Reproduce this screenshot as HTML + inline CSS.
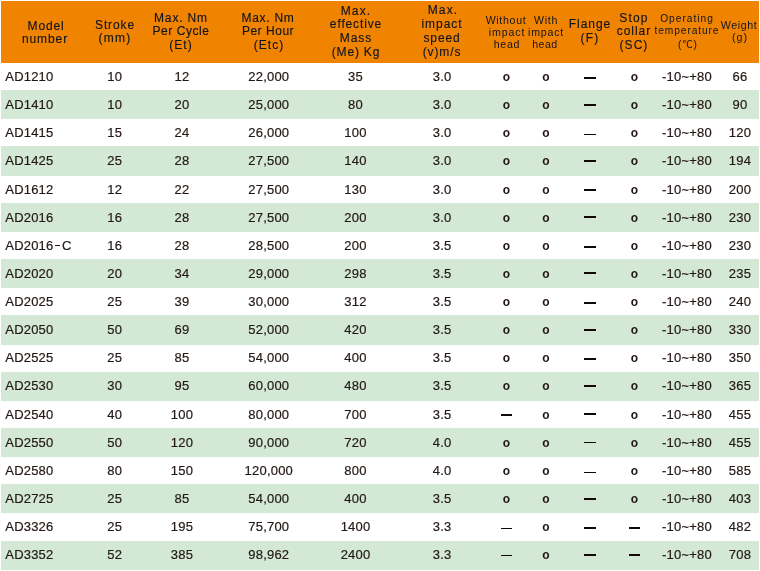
<!DOCTYPE html>
<html><head><meta charset="utf-8"><style>
*{margin:0;padding:0;box-sizing:border-box}
html,body{width:760px;height:571px;overflow:hidden;background:#fff}
body{position:relative;font-family:"Liberation Sans",Arial,"Noto Sans CJK SC",sans-serif;color:#231815}
.hd{position:absolute;left:1px;top:1px;width:758px;height:61.5px;background:#F08300}
.g{position:absolute;left:1px;width:758px;height:28.9px;background:#D4E9D5}
.r{position:absolute;left:0;width:760px;height:20px;line-height:20px;font-size:13px;white-space:nowrap;will-change:transform;-webkit-text-stroke:0.2px #231815;letter-spacing:0.2px}
.r b{position:absolute;top:0;width:100px;text-align:center;font-weight:normal}
.r .m{position:absolute;left:5.3px;top:0}
.r b.o{font-weight:bold;font-size:12px;-webkit-text-stroke:0}
.r i{position:absolute;background:#120808}
.hy{display:inline-block;width:8.6px;height:1.2px;vertical-align:4px;background:linear-gradient(to right,transparent 2.3px,#231815 2.3px,#231815 7px,transparent 7px)}
.h{position:absolute;width:120px;text-align:center;white-space:nowrap;color:#121420;will-change:transform;-webkit-text-stroke:0.15px #121420}
</style></head><body>
<div class="hd"></div>

<div class="g" style="top:90px;height:29px"></div>
<div class="g" style="top:146px;height:30px"></div>
<div class="g" style="top:203px;height:29px"></div>
<div class="g" style="top:259px;height:29px"></div>
<div class="g" style="top:315px;height:30px"></div>
<div class="g" style="top:372px;height:29px"></div>
<div class="g" style="top:428px;height:29px"></div>
<div class="g" style="top:484px;height:29px"></div>
<div class="g" style="top:541px;height:29px"></div>
<div class="h" style="left:-14.05px;top:16.00px;font-size:12px;line-height:20.00px;letter-spacing:0.839px">Model</div>
<div class="h" style="left:-14.57px;top:29.00px;font-size:12px;line-height:20.00px;letter-spacing:0.913px">number</div>
<div class="h" style="left:54.66px;top:15.00px;font-size:12px;line-height:20.00px;letter-spacing:0.882px">Stroke</div>
<div class="h" style="left:55.10px;top:28.00px;font-size:12px;line-height:20.00px;letter-spacing:1.249px">(mm)</div>
<div class="h" style="left:121.47px;top:8.00px;font-size:12px;line-height:20.00px;letter-spacing:0.844px">Max. Nm</div>
<div class="h" style="left:121.31px;top:21.00px;font-size:12px;line-height:20.00px;letter-spacing:0.575px">Per Cycle</div>
<div class="h" style="left:121.48px;top:35.00px;font-size:12px;line-height:20.00px;letter-spacing:1.092px">(Et)</div>
<div class="h" style="left:208.35px;top:8.00px;font-size:12px;line-height:20.00px;letter-spacing:0.731px">Max. Nm</div>
<div class="h" style="left:207.83px;top:21.00px;font-size:12px;line-height:20.00px;letter-spacing:0.528px">Per Hour</div>
<div class="h" style="left:208.63px;top:35.00px;font-size:12px;line-height:20.00px;letter-spacing:1.012px">(Etc)</div>
<div class="h" style="left:295.63px;top:1.00px;font-size:12px;line-height:20.00px;letter-spacing:1.153px">Max.</div>
<div class="h" style="left:295.63px;top:14.00px;font-size:12px;line-height:20.00px;letter-spacing:0.865px">effective</div>
<div class="h" style="left:295.59px;top:28.00px;font-size:12px;line-height:20.00px;letter-spacing:0.989px">Mass</div>
<div class="h" style="left:295.56px;top:42.00px;font-size:12px;line-height:20.00px;letter-spacing:0.815px">(Me) Kg</div>
<div class="h" style="left:382.53px;top:0.00px;font-size:12px;line-height:20.00px;letter-spacing:1.185px">Max.</div>
<div class="h" style="left:381.79px;top:14.00px;font-size:12px;line-height:20.00px;letter-spacing:0.955px">impact</div>
<div class="h" style="left:382.08px;top:28.00px;font-size:12px;line-height:20.00px;letter-spacing:0.872px">speed</div>
<div class="h" style="left:381.54px;top:42.00px;font-size:12px;line-height:20.00px;letter-spacing:0.894px">(v)m/s</div>
<div class="h" style="left:446.43px;top:10.00px;font-size:10.6px;line-height:20.00px;letter-spacing:0.683px;-webkit-text-stroke:0">Without</div>
<div class="h" style="left:446.89px;top:22.00px;font-size:10.6px;line-height:20.00px;letter-spacing:0.919px;-webkit-text-stroke:0">impact</div>
<div class="h" style="left:446.88px;top:34.00px;font-size:10.6px;line-height:20.00px;letter-spacing:0.736px;-webkit-text-stroke:0">head</div>
<div class="h" style="left:485.80px;top:10.00px;font-size:10.6px;line-height:20.00px;letter-spacing:0.683px;-webkit-text-stroke:0">With</div>
<div class="h" style="left:485.63px;top:22.00px;font-size:10.6px;line-height:20.00px;letter-spacing:0.809px;-webkit-text-stroke:0">impact</div>
<div class="h" style="left:485.44px;top:34.00px;font-size:10.6px;line-height:20.00px;letter-spacing:0.492px;-webkit-text-stroke:0">head</div>
<div class="h" style="left:529.63px;top:14.00px;font-size:12px;line-height:20.00px;letter-spacing:0.950px">Flange</div>
<div class="h" style="left:530.35px;top:28.00px;font-size:12px;line-height:20.00px;letter-spacing:1.173px">(F)</div>
<div class="h" style="left:574.18px;top:8.00px;font-size:12px;line-height:20.00px;letter-spacing:1.143px">Stop</div>
<div class="h" style="left:573.74px;top:21.00px;font-size:12px;line-height:20.00px;letter-spacing:0.956px">collar</div>
<div class="h" style="left:574.45px;top:35.00px;font-size:12px;line-height:20.00px;letter-spacing:1.040px">(SC)</div>
<div class="h" style="left:627.35px;top:9.00px;font-size:10.2px;line-height:20.00px;letter-spacing:0.990px;-webkit-text-stroke:0">Operating</div>
<div class="h" style="left:627.29px;top:21.00px;font-size:10.2px;line-height:20.00px;letter-spacing:0.899px;-webkit-text-stroke:0">temperature</div>
<div class="h" style="left:627.69px;top:35.00px;font-size:10.2px;line-height:20.00px;letter-spacing:1.034px;-webkit-text-stroke:0">(℃)</div>
<div class="h" style="left:679.42px;top:15.00px;font-size:10.7px;line-height:20.00px;letter-spacing:0.594px;-webkit-text-stroke:0">Weight</div>
<div class="h" style="left:679.92px;top:27.00px;font-size:10.7px;line-height:20.00px;letter-spacing:1.007px;-webkit-text-stroke:0">(g)</div>
<div class="r" style="top:67.00px"><span class="m">AD1210</span><b style="left:64.80px">10</b><b style="left:132.00px">12</b><b style="left:218.80px">22,000</b><b style="left:305.50px">35</b><b style="left:392.20px">3.0</b><b class="o" style="left:456.60px">o</b><b class="o" style="left:496.00px">o</b><i style="left:584.00px;width:12.1px;top:10px;height:2px"></i><b class="o" style="left:584.50px">o</b><b style="left:637.00px">-10~+80</b><b style="left:690.00px">66</b></div>
<div class="r" style="top:95.00px"><span class="m">AD1410</span><b style="left:64.80px">10</b><b style="left:132.00px">20</b><b style="left:218.80px">25,000</b><b style="left:305.50px">80</b><b style="left:392.20px">3.0</b><b class="o" style="left:456.60px">o</b><b class="o" style="left:496.00px">o</b><i style="left:584.00px;width:12.1px;top:9px;height:2px"></i><b class="o" style="left:584.50px">o</b><b style="left:637.00px">-10~+80</b><b style="left:690.00px">90</b></div>
<div class="r" style="top:123.00px"><span class="m">AD1415</span><b style="left:64.80px">15</b><b style="left:132.00px">24</b><b style="left:218.80px">26,000</b><b style="left:305.50px">100</b><b style="left:392.20px">3.0</b><b class="o" style="left:456.60px">o</b><b class="o" style="left:496.00px">o</b><i style="left:584.00px;width:12.1px;top:11px;height:1px"></i><b class="o" style="left:584.50px">o</b><b style="left:637.00px">-10~+80</b><b style="left:690.00px">120</b></div>
<div class="r" style="top:151.00px"><span class="m">AD1425</span><b style="left:64.80px">25</b><b style="left:132.00px">28</b><b style="left:218.80px">27,500</b><b style="left:305.50px">140</b><b style="left:392.20px">3.0</b><b class="o" style="left:456.60px">o</b><b class="o" style="left:496.00px">o</b><i style="left:584.00px;width:12.1px;top:9px;height:2px"></i><b class="o" style="left:584.50px">o</b><b style="left:637.00px">-10~+80</b><b style="left:690.00px">194</b></div>
<div class="r" style="top:180.00px"><span class="m">AD1612</span><b style="left:64.80px">12</b><b style="left:132.00px">22</b><b style="left:218.80px">27,500</b><b style="left:305.50px">130</b><b style="left:392.20px">3.0</b><b class="o" style="left:456.60px">o</b><b class="o" style="left:496.00px">o</b><i style="left:584.00px;width:12.1px;top:9px;height:2px"></i><b class="o" style="left:584.50px">o</b><b style="left:637.00px">-10~+80</b><b style="left:690.00px">200</b></div>
<div class="r" style="top:208.00px"><span class="m">AD2016</span><b style="left:64.80px">16</b><b style="left:132.00px">28</b><b style="left:218.80px">27,500</b><b style="left:305.50px">200</b><b style="left:392.20px">3.0</b><b class="o" style="left:456.60px">o</b><b class="o" style="left:496.00px">o</b><i style="left:584.00px;width:12.1px;top:8px;height:2px"></i><b class="o" style="left:584.50px">o</b><b style="left:637.00px">-10~+80</b><b style="left:690.00px">230</b></div>
<div class="r" style="top:236.00px"><span class="m">AD2016<span class="hy"></span>C</span><b style="left:64.80px">16</b><b style="left:132.00px">28</b><b style="left:218.80px">28,500</b><b style="left:305.50px">200</b><b style="left:392.20px">3.5</b><b class="o" style="left:456.60px">o</b><b class="o" style="left:496.00px">o</b><i style="left:584.00px;width:12.1px;top:10px;height:2px"></i><b class="o" style="left:584.50px">o</b><b style="left:637.00px">-10~+80</b><b style="left:690.00px">230</b></div>
<div class="r" style="top:264.00px"><span class="m">AD2020</span><b style="left:64.80px">20</b><b style="left:132.00px">34</b><b style="left:218.80px">29,000</b><b style="left:305.50px">298</b><b style="left:392.20px">3.5</b><b class="o" style="left:456.60px">o</b><b class="o" style="left:496.00px">o</b><i style="left:584.00px;width:12.1px;top:8px;height:2px"></i><b class="o" style="left:584.50px">o</b><b style="left:637.00px">-10~+80</b><b style="left:690.00px">235</b></div>
<div class="r" style="top:292.00px"><span class="m">AD2025</span><b style="left:64.80px">25</b><b style="left:132.00px">39</b><b style="left:218.80px">30,000</b><b style="left:305.50px">312</b><b style="left:392.20px">3.5</b><b class="o" style="left:456.60px">o</b><b class="o" style="left:496.00px">o</b><i style="left:584.00px;width:12.1px;top:10px;height:2px"></i><b class="o" style="left:584.50px">o</b><b style="left:637.00px">-10~+80</b><b style="left:690.00px">240</b></div>
<div class="r" style="top:320.00px"><span class="m">AD2050</span><b style="left:64.80px">50</b><b style="left:132.00px">69</b><b style="left:218.80px">52,000</b><b style="left:305.50px">420</b><b style="left:392.20px">3.5</b><b class="o" style="left:456.60px">o</b><b class="o" style="left:496.00px">o</b><i style="left:584.00px;width:12.1px;top:9px;height:2px"></i><b class="o" style="left:584.50px">o</b><b style="left:637.00px">-10~+80</b><b style="left:690.00px">330</b></div>
<div class="r" style="top:348.00px"><span class="m">AD2525</span><b style="left:64.80px">25</b><b style="left:132.00px">85</b><b style="left:218.80px">54,000</b><b style="left:305.50px">400</b><b style="left:392.20px">3.5</b><b class="o" style="left:456.60px">o</b><b class="o" style="left:496.00px">o</b><i style="left:584.00px;width:12.1px;top:10px;height:2px"></i><b class="o" style="left:584.50px">o</b><b style="left:637.00px">-10~+80</b><b style="left:690.00px">350</b></div>
<div class="r" style="top:376.00px"><span class="m">AD2530</span><b style="left:64.80px">30</b><b style="left:132.00px">95</b><b style="left:218.80px">60,000</b><b style="left:305.50px">480</b><b style="left:392.20px">3.5</b><b class="o" style="left:456.60px">o</b><b class="o" style="left:496.00px">o</b><i style="left:584.00px;width:12.1px;top:9px;height:2px"></i><b class="o" style="left:584.50px">o</b><b style="left:637.00px">-10~+80</b><b style="left:690.00px">365</b></div>
<div class="r" style="top:405.00px"><span class="m">AD2540</span><b style="left:64.80px">40</b><b style="left:132.00px">100</b><b style="left:218.80px">80,000</b><b style="left:305.50px">700</b><b style="left:392.20px">3.5</b><i style="left:501.00px;width:11.1px;top:9px;height:2px"></i><b class="o" style="left:496.00px">o</b><i style="left:584.00px;width:12.1px;top:8px;height:2px"></i><b class="o" style="left:584.50px">o</b><b style="left:637.00px">-10~+80</b><b style="left:690.00px">455</b></div>
<div class="r" style="top:433.00px"><span class="m">AD2550</span><b style="left:64.80px">50</b><b style="left:132.00px">120</b><b style="left:218.80px">90,000</b><b style="left:305.50px">720</b><b style="left:392.20px">4.0</b><b class="o" style="left:456.60px">o</b><b class="o" style="left:496.00px">o</b><i style="left:584.00px;width:12.1px;top:9px;height:1px"></i><b class="o" style="left:584.50px">o</b><b style="left:637.00px">-10~+80</b><b style="left:690.00px">455</b></div>
<div class="r" style="top:461.00px"><span class="m">AD2580</span><b style="left:64.80px">80</b><b style="left:132.00px">150</b><b style="left:218.80px">120,000</b><b style="left:305.50px">800</b><b style="left:392.20px">4.0</b><b class="o" style="left:456.60px">o</b><b class="o" style="left:496.00px">o</b><i style="left:584.00px;width:12.1px;top:11px;height:1px"></i><b class="o" style="left:584.50px">o</b><b style="left:637.00px">-10~+80</b><b style="left:690.00px">585</b></div>
<div class="r" style="top:489.00px"><span class="m">AD2725</span><b style="left:64.80px">25</b><b style="left:132.00px">85</b><b style="left:218.80px">54,000</b><b style="left:305.50px">400</b><b style="left:392.20px">3.5</b><b class="o" style="left:456.60px">o</b><b class="o" style="left:496.00px">o</b><i style="left:584.00px;width:12.1px;top:9px;height:2px"></i><b class="o" style="left:584.50px">o</b><b style="left:637.00px">-10~+80</b><b style="left:690.00px">403</b></div>
<div class="r" style="top:517.00px"><span class="m">AD3326</span><b style="left:64.80px">25</b><b style="left:132.00px">195</b><b style="left:218.80px">75,700</b><b style="left:305.50px">1400</b><b style="left:392.20px">3.3</b><i style="left:501.00px;width:11.1px;top:11px;height:1px"></i><b class="o" style="left:496.00px">o</b><i style="left:584.00px;width:12.1px;top:10px;height:2px"></i><i style="left:629.00px;width:11.1px;top:10px;height:2px"></i><b style="left:637.00px">-10~+80</b><b style="left:690.00px">482</b></div>
<div class="r" style="top:545.00px"><span class="m">AD3352</span><b style="left:64.80px">52</b><b style="left:132.00px">385</b><b style="left:218.80px">98,962</b><b style="left:305.50px">2400</b><b style="left:392.20px">3.3</b><i style="left:501.00px;width:11.1px;top:10px;height:1px"></i><b class="o" style="left:496.00px">o</b><i style="left:584.00px;width:12.1px;top:9px;height:2px"></i><i style="left:629.00px;width:11.1px;top:9px;height:2px"></i><b style="left:637.00px">-10~+80</b><b style="left:690.00px">708</b></div>
</body></html>
